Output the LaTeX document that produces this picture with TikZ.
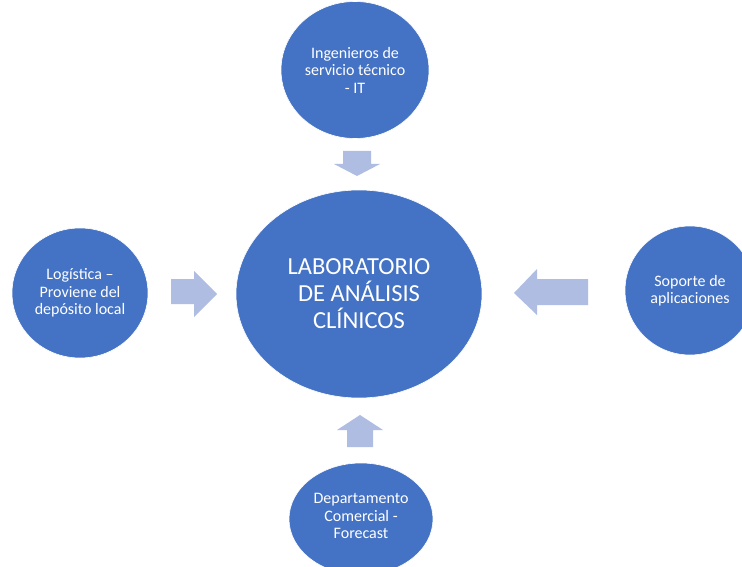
\documentclass[tikz,border=0pt]{standalone}
\usepackage{fontspec}
\setmainfont{Carlito}
\usetikzlibrary{shapes.geometric}
\definecolor{circblue}{HTML}{4472C4}
\definecolor{arrblue}{HTML}{AFBDE2}
\begin{document}
\begin{tikzpicture}[x=1pt,y=-1pt,
  bubble/.style={ellipse, fill=circblue, draw=white, line width=0.6pt, inner sep=0pt,
    text=white, align=center},
  small/.style={font=\fontsize{16}{17.5}\selectfont},
  big/.style={font=\fontsize{24.5}{27}\selectfont},
  blockarrow/.style={fill=arrblue}]
\clip (0,0) rectangle (742,567);
\fill[white] (0,0) rectangle (742,567);
% nodes
\node[bubble, big, minimum width=246pt, minimum height=208pt] (lab) at (359,294)
  {LABORATORIO\\DE ANÁLISIS\\CLÍNICOS};
\node[bubble, small, minimum width=148pt, minimum height=137pt] (it) at (355,70)
  {Ingenieros de\\servicio técnico\\- IT};
\node[bubble, small, minimum width=136pt, minimum height=130pt] (log) at (80,293)
  {Logística –\\Proviene del\\depósito local};
\node[bubble, small, minimum width=130pt, minimum height=129pt] (sop) at (690,290.5)
  {Soporte de\\aplicaciones};
\node[bubble, minimum width=144pt, minimum height=112pt] (dep) at (361,519) {};
\node[small, text=white, align=center] (deptext) at (361,516)
  {Departamento\\Comercial -\\Forecast};
% block arrows
\fill[blockarrow] (343,151) -- (371,151) -- (371,164) -- (380,164) -- (357,176)
  -- (334,164) -- (343,164) -- cycle;
\fill[blockarrow] (171,279) -- (194,279) -- (194,271) -- (217,294) -- (194,317)
  -- (194,304) -- (171,304) -- cycle;
\fill[blockarrow] (588,279) -- (537,279) -- (537,269) -- (514,293) -- (537,315)
  -- (537,305) -- (588,305) -- cycle;
\fill[blockarrow] (347,447) -- (347,430) -- (337,430) -- (360,415) -- (383,430)
  -- (373,430) -- (373,447) -- cycle;
\end{tikzpicture}
\end{document}
